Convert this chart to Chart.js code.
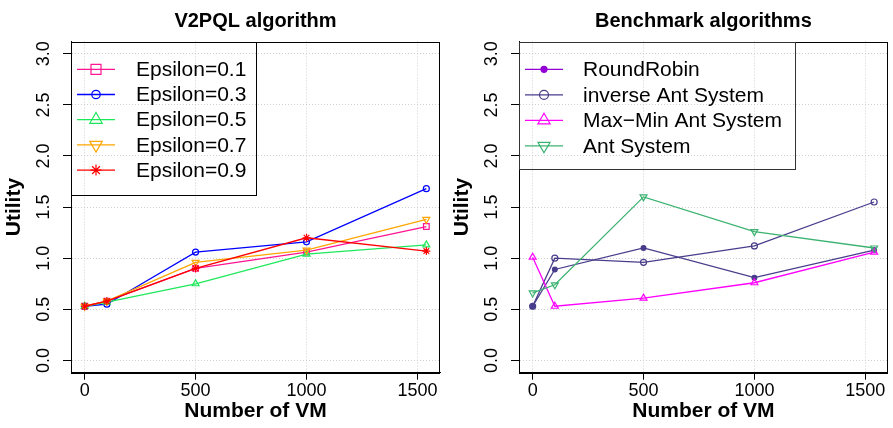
<!DOCTYPE html>
<html><head><meta charset="utf-8">
<script src="https://cdn.jsdelivr.net/npm/chart.js@4"></script>
<style>
html,body{margin:0;padding:0;background:#fff;width:893px;height:428px;overflow:hidden}
#l{position:absolute;left:0;top:0;width:448px;height:428px}
#r{position:absolute;left:448px;top:0;width:445px;height:428px}
</style></head><body>
<div id="l"><canvas id="c1" width="448" height="428"></canvas></div>
<div id="r"><canvas id="c2" width="445" height="428"></canvas></div>
<script>
// ---- data ----
const vmCounts = [0, 100, 500, 1000, 1540];
const xTicks = [0, 500, 1000, 1500];
const yTicks = [0, 0.5, 1.0, 1.5, 2.0, 2.5, 3.0];

const leftTitle = 'V2PQL algorithm';
const rightTitle = 'Benchmark algorithms';
const xTitle = 'Number of VM';
const yTitle = 'Utility';

const epsLabels = ['Epsilon=0.1', 'Epsilon=0.3', 'Epsilon=0.5', 'Epsilon=0.7', 'Epsilon=0.9'];
const eps01 = [0.53, 0.58, 0.90, 1.06, 1.31];
const eps03 = [0.53, 0.55, 1.06, 1.16, 1.68];
const eps05 = [0.53, 0.57, 0.75, 1.04, 1.13];
const eps07 = [0.53, 0.58, 0.96, 1.08, 1.38];
const eps09 = [0.53, 0.58, 0.90, 1.20, 1.07];

const benchLabels = ['RoundRobin', 'inverse Ant System', 'Max\u2212Min Ant System', 'Ant System'];
const roundRobin = [0.53, 0.89, 1.10, 0.81, 1.08];
const inverseAS  = [0.53, 1.00, 0.96, 1.12, 1.55];
const maxMinAS   = [1.01, 0.53, 0.61, 0.76, 1.06];
const antSystem  = [0.66, 0.74, 1.60, 1.26, 1.10];

// ---- styles ----
const FONT = '"Liberation Sans", Arial, Helvetica, sans-serif';
const leftStyles = [
  {color:'#FF1493', style:'rect',     r:4,   rot:0,   lr:5,   fill:false},
  {color:'#0000FF', style:'circle',   r:3,   rot:0,   lr:4.2, fill:false},
  {color:'#1EE85A', style:'triangle', r:4,   rot:0,   lr:7.2, fill:false},
  {color:'#FFA500', style:'triangle', r:4,   rot:180, lr:7.2, fill:false},
  {color:'#FF0000', style:'star',     r:4,   rot:0,   lr:5.5, fill:false}
];
const rightStyles = [
  {color:'#483D8B', legendColor:'#9400D3', style:'circle', r:2.4, rot:0, lr:3.6, fill:true},
  {color:'#483D8B', style:'circle',   r:3,   rot:0,   lr:4.5, fill:false},
  {color:'#FF00FF', style:'triangle', r:4,   rot:0,   lr:7,   fill:false},
  {color:'#3CB371', style:'triangle', r:4,   rot:180, lr:7,   fill:false}
];

function mkDatasets(labels, series, styles) {
  return series.map((vals, i) => {
    const s = styles[i];
    return {
      label: labels[i],
      data: vmCounts.map((x, j) => ({x: x, y: vals[j]})),
      borderColor: s.color,
      borderWidth: 1.3,
      backgroundColor: s.color,
      pointStyle: s.style,
      pointRotation: s.rot,
      pointRadius: s.r,
      pointHoverRadius: s.r,
      pointBorderWidth: 1.2,
      pointBorderColor: s.color,
      pointBackgroundColor: s.fill ? s.color : 'rgba(0,0,0,0)',
      tension: 0,
      fill: false,
      clip: false,
      order: series.length - i
    };
  });
}

function drawMarker(ctx, s, x, y, r) {
  ctx.save();
  ctx.strokeStyle = s.legendColor || s.color;
  ctx.fillStyle = s.legendColor || s.color;
  ctx.lineWidth = 1.2;
  ctx.beginPath();
  if (s.style === 'circle') {
    ctx.arc(x, y, r, 0, Math.PI * 2);
    if (s.fill) ctx.fill(); else ctx.stroke();
  } else if (s.style === 'rect') {
    ctx.rect(x - r, y - r, 2 * r, 2 * r); ctx.stroke();
  } else if (s.style === 'triangle') {
    const sgn = s.rot === 180 ? -1 : 1;
    for (let k = 0; k < 3; k++) {
      const a = -Math.PI / 2 + k * 2 * Math.PI / 3;
      const px = x + Math.cos(a) * r, py = y + sgn * Math.sin(a) * r;
      if (k === 0) ctx.moveTo(px, py); else ctx.lineTo(px, py);
    }
    ctx.closePath(); ctx.stroke();
  } else if (s.style === 'star') {
    for (let k = 0; k < 4; k++) {
      const a = k * Math.PI / 4;
      ctx.moveTo(x + Math.cos(a) * r, y + Math.sin(a) * r);
      ctx.lineTo(x - Math.cos(a) * r, y - Math.sin(a) * r);
    }
    ctx.stroke();
  }
  ctx.restore();
}

function framePlugin(title, labels, styles, lg) {
  return {
    id: 'frame',
    afterDatasetsDraw(chart) {
      const ctx = chart.ctx, a = chart.chartArea;
      ctx.save();
      // box
      ctx.strokeStyle = '#000'; ctx.lineWidth = 1;
      ctx.strokeRect(Math.round(a.left) + 0.5, Math.round(a.top) + 0.5,
                     Math.round(a.right - a.left) - 1, Math.round(a.bottom - a.top));
      // title
      ctx.fillStyle = '#000';
      ctx.font = 'bold 20px ' + FONT;
      ctx.textAlign = 'center'; ctx.textBaseline = 'alphabetic';
      ctx.fillText(title, (a.left + a.right) / 2, 27);
      // legend
      ctx.strokeStyle = lg.border; ctx.lineWidth = 1;
      ctx.strokeRect(Math.round(a.left) + 0.5, Math.round(a.top) + 0.5, lg.w, lg.h);
      labels.forEach((lab, i) => {
        const s = styles[i];
        const y = a.top + lg.first + i * lg.step;
        ctx.strokeStyle = s.legendColor || s.color; ctx.lineWidth = 1.3;
        ctx.beginPath(); ctx.moveTo(a.left + 6, y); ctx.lineTo(a.left + 44, y); ctx.stroke();
        drawMarker(ctx, s, a.left + 25, y, s.lr);
        ctx.fillStyle = '#000';
        ctx.font = '21px ' + FONT;
        ctx.textAlign = 'left'; ctx.textBaseline = 'middle';
        ctx.fillText(lab, a.left + lg.tx, y + 1);
      });
      ctx.restore();
    }
  };
}

function mkOptions(padRight) {
  return {
    responsive: false,
    animation: false,
    devicePixelRatio: 1,
    layout: {padding: {left: 0, top: 41.5, right: padRight, bottom: 0}},
    plugins: {legend: {display: false}, tooltip: {enabled: false}, title: {display: false}},
    scales: {
      x: {
        type: 'linear', min: -61.6, max: 1601.6,
        afterBuildTicks: s => { s.ticks = xTicks.map(v => ({value: v})); },
        afterFit: s => { s.height = 55.3; },
        ticks: {color: '#000', font: {family: FONT, size: 18}, padding: 1, maxRotation: 0, autoSkip: false,
                callback: v => String(v)},
        grid: {color: '#cfcfcf', lineWidth: 1, tickColor: '#000', tickLength: 7, tickWidth: 1, tickBorderDash: []},
        border: {display: true, color: '#000', width: 1, dash: [1, 2]},
        title: {display: true, text: xTitle, color: '#000', font: {family: FONT, size: 21, weight: 'bold'},
                padding: {top: 0, bottom: 4}}
      },
      y: {
        type: 'linear', min: -0.12, max: 3.12,
        afterBuildTicks: s => { s.ticks = yTicks.map(v => ({value: v})); },
        afterFit: s => { s.width = 71; },
        ticks: {color: '#000', font: {family: FONT, size: 18}, padding: 6, minRotation: 90, maxRotation: 90,
                crossAlign: 'center', autoSkip: false, callback: v => v.toFixed(1)},
        grid: {color: '#cfcfcf', lineWidth: 1, tickColor: '#000', tickLength: 8, tickWidth: 1, tickBorderDash: []},
        border: {display: true, color: '#000', width: 1, dash: [1, 2]},
        title: {display: true, text: yTitle, color: '#000', font: {family: FONT, size: 21, weight: 'bold'},
                padding: {top: 2, bottom: 0}}
      }
    }
  };
}

new Chart(document.getElementById('c1'), {
  type: 'line',
  data: {datasets: mkDatasets(epsLabels, [eps01, eps03, eps05, eps07, eps09], leftStyles)},
  options: mkOptions(8),
  plugins: [framePlugin(leftTitle, epsLabels, leftStyles,
            {w: 185, h: 153, first: 27.8, step: 25.2, tx: 65, border: '#000'})]
});

new Chart(document.getElementById('c2'), {
  type: 'line',
  data: {datasets: mkDatasets(benchLabels, [roundRobin, inverseAS, maxMinAS, antSystem], rightStyles)},
  options: mkOptions(5),
  plugins: [framePlugin(rightTitle, benchLabels, rightStyles,
            {w: 276, h: 127, first: 27.8, step: 25.5, tx: 64, border: '#333'})]
});
</script>
</body></html>
